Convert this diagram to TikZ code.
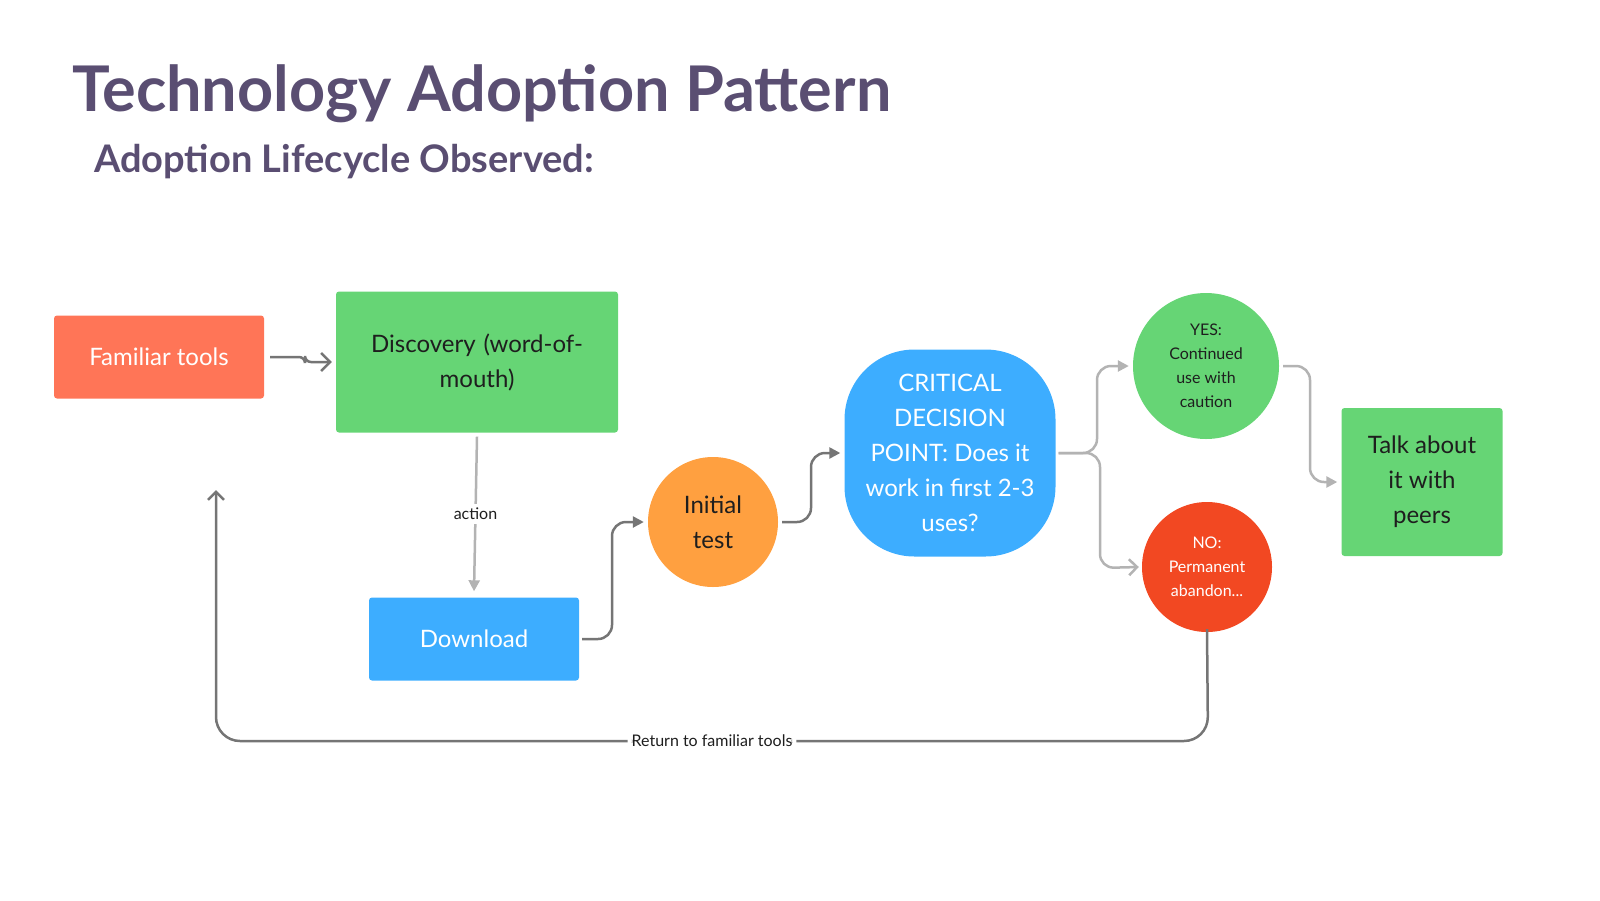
\documentclass[tikz,border=0pt]{standalone}
\usepackage{fontspec}
\setmainfont{Lato}
\usetikzlibrary{arrows.meta}
\definecolor{ttl}{HTML}{5A4E72}
\definecolor{cred}{HTML}{FF7557}
\definecolor{cgreen}{HTML}{66D575}
\definecolor{cblue}{HTML}{3DADFF}
\definecolor{corange}{HTML}{FFA040}
\definecolor{cnored}{HTML}{F24822}
\definecolor{dk}{HTML}{757575}
\definecolor{lt}{HTML}{B3B3B3}
\definecolor{txt}{HTML}{1E1E1E}
\tikzset{
 box/.style={draw=none,inner sep=0pt,align=center,font=\fontsize{24}{35}\selectfont},
 dkline/.style={draw=dk,line width=2.5pt,rounded corners=14pt,-{Triangle[length=11pt,width=11pt]}},
 ltline/.style={draw=lt,line width=2.5pt,rounded corners=14pt,-{Triangle[length=11pt,width=11pt]}},
 lbl/.style={fill=white,font=\fontsize{16}{18}\selectfont,text=txt,inner sep=4pt}
}
\begin{document}
\begin{tikzpicture}[x=1pt,y=-1pt]
\useasboundingbox (0,0) rectangle (1600,900);
\node[anchor=base west,text=ttl,font=\fontsize{63}{70}\selectfont\bfseries,inner sep=0pt] (title) at (72,111) {Technology Adoption Pattern};
\node[anchor=base west,text=ttl,font=\fontsize{38}{44}\selectfont\bfseries,inner sep=0pt] (sub) at (94,172) {Adoption Lifecycle Observed:};

\node[box,fill=cred,text=white,minimum width=210pt,minimum height=83pt,rounded corners=3pt] (fam) at (159,357) {Familiar tools};
\node[box,fill=cgreen,text=txt,minimum width=282pt,minimum height=141pt,rounded corners=3pt,text width=250pt] (disc) at (477,362) {Discovery (word-of-\\mouth)};
\node[box,fill=cblue,text=white,minimum width=210pt,minimum height=83pt,rounded corners=3pt] (dl) at (474,639) {Download};
\node[box,circle,fill=corange,text=txt,minimum size=130pt] (init) at (713,522) {Initial\\test};
\node[box,fill=cblue,text=white,minimum width=211pt,minimum height=207pt,rounded corners=70pt] (crit) at (950,453) {CRITICAL\\DECISION\\POINT: Does it\\work in first 2-3\\uses?};
\node[box,circle,fill=cgreen,text=txt,minimum size=146pt,font=\fontsize{16}{24}\selectfont] (yes) at (1206,366) {YES:\\Continued\\use with\\caution};
\node[box,circle,fill=cnored,text=white,minimum size=130pt,font=\fontsize{16}{24}\selectfont] (no) at (1207,567) {NO:\\Permanent\\abandon...};
\node[box,fill=cgreen,text=txt,minimum width=161pt,minimum height=148pt,rounded corners=3pt] (talk) at (1422,482) {Talk about\\it with\\peers};

\draw[draw=dk,line width=2.5pt,rounded corners=6pt,-{Straight Barb[length=9pt,width=18pt]}] ([xshift=6pt]fam.east) -- (305,357) -- (305,362) -- ([xshift=-4pt]disc.west);
\draw[ltline] ([yshift=-4pt]disc.south) -- node[lbl]{action} ([yshift=6pt]dl.north);
\draw[dkline] ([xshift=3pt]dl.east) -- (612,639) -- (612,522) -- ([xshift=-4pt]init.west);
\draw[dkline] ([xshift=4pt]init.east) -- (811,522) -- (811,453) -- ([xshift=-4pt]crit.west);
\draw[ltline] ([xshift=3pt]crit.east) -- (1097,453) -- (1097,366) -- ([xshift=-4pt]yes.west);
\draw[draw=lt,line width=2.5pt,rounded corners=14pt,-{Straight Barb[length=8pt,width=16pt]}] ([xshift=3pt]crit.east) -- (1100,453) -- (1100,568) -- ([xshift=-3pt]no.west);
\draw[ltline] ([xshift=4pt]yes.east) -- (1310,366) -- (1310,482) -- ([xshift=-4pt]talk.west);
\coordinate (ret) at (216,490);
\draw[draw=dk,line width=2.5pt,rounded corners=24pt,-{Straight Barb[length=8pt,width=16pt]}] ([yshift=3pt]no.south) -- (1208,741) -- node[lbl,pos=0.5]{Return to familiar tools} (216,741) -- (ret);
\end{tikzpicture}
\end{document}
